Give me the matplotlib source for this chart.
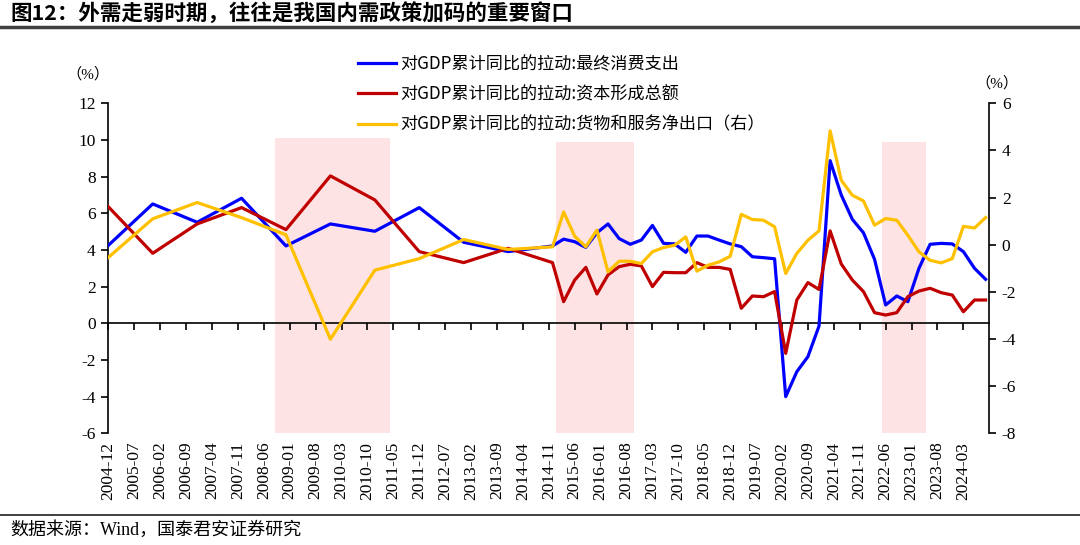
import matplotlib
matplotlib.use('Agg')
import matplotlib.pyplot as plt
import pandas as pd
from matplotlib.lines import Line2D

plt.rcParams['font.family'] = ['Liberation Serif', 'Noto Sans CJK SC']
plt.rcParams['axes.unicode_minus'] = False

# dates: annual (Dec) to 2014, then quarterly
dates = ['%d-12' % y for y in range(2004, 2015)] + \
    [str(p.asfreq('M', 'end')) for p in pd.period_range('2015Q1', '2024Q3', freq='Q')]

consumption = [4.25, 6.51, 5.51, 6.82, 4.22, 5.42, 5.02, 6.31, 4.42, 3.91, 4.22,
               4.59, 4.45, 4.14, 4.94, 5.42, 4.62, 4.31, 4.54, 5.34, 4.36,
               4.33, 3.87, 4.76, 4.76, 4.54, 4.33, 4.18, 3.63, 3.58, 3.52,
               -4.00, -2.64, -1.82, -0.15, 8.87, 7.00, 5.67, 4.94, 3.49, 1.00,
               1.49, 1.18, 3.00, 4.31, 4.36, 4.33, 3.91, 3.00, 2.40]
capital = [6.36, 3.82, 5.42, 6.31, 5.11, 8.04, 6.73, 3.91, 3.31, 4.09, 3.31,
           1.18, 2.36, 3.05, 1.60, 2.64, 3.09, 3.22, 3.13, 2.00, 2.78,
           2.76, 2.76, 3.31, 3.05, 3.05, 2.94, 0.82, 1.49, 1.45, 1.73,
           -1.64, 1.27, 2.22, 1.85, 5.04, 3.24, 2.36, 1.73, 0.58, 0.45,
           0.58, 1.45, 1.76, 1.91, 1.67, 1.54, 0.63, 1.27, 1.27]
net_export = [-0.54, 1.10, 1.79, 1.15, 0.42, -4.01, -1.08, -0.59, 0.22, -0.20, -0.09,
              1.39, 0.36, -0.09, 0.62, -1.15, -0.70, -0.70, -0.80, -0.30, -0.12,
              -0.02, 0.33, -1.12, -0.87, -0.73, -0.49, 1.29, 1.07, 1.04, 0.76,
              -1.22, -0.37, 0.19, 0.59, 4.83, 2.74, 2.10, 1.86, 0.83, 1.11,
              1.04, 0.40, -0.30, -0.66, -0.77, -0.59, 0.78, 0.71, 1.15]

# shaded windows (start, end, top on left axis)
windows = [('2008-09', '2011-04', 10.1), ('2015-01', '2016-10', 9.9), ('2022-05', '2023-05', 9.9)]

labels = ['对GDP累计同比的拉动:最终消费支出', '对GDP累计同比的拉动:资本形成总额',
          '对GDP累计同比的拉动:货物和服务净出口（右）']
colors = ['#0000FF', '#C00000', '#FFC000']


def mpos(s):
    # month index counted from 2004-12
    y, m = s.split('-')[:2]
    return (int(y) - 2004) * 12 + int(m) - 12


x = [mpos(d) for d in dates]
tick_pos = list(range(0, 232, 7))
tick_lab = []
for t in tick_pos:
    yy = 2004 + (t + 11) // 12
    mm = (t + 11) % 12 + 1
    tick_lab.append('%d-%02d' % (yy, mm))

fig = plt.figure(figsize=(10.8, 5.45), dpi=100)
ax = fig.add_axes([108.3 / 1080, (545 - 433.3) / 545, 881 / 1080, 330 / 545])
ax2 = ax.twinx()

for s, e, top in windows:
    ax.fill_between([mpos(s), mpos(e)], -6, top, color='#FDE3E3', lw=0, zorder=0)

l1, = ax.plot(x, consumption, color=colors[0], lw=2.3, zorder=3)
l2, = ax.plot(x, capital, color=colors[1], lw=2.3, zorder=3)
l3, = ax2.plot(x, net_export, color=colors[2], lw=2.3, zorder=3)

ax.set_xlim(0, 238)
ax.set_ylim(-6, 12)
ax.set_yticks(range(-6, 13, 2))
ax2.set_ylim(-8, 6)
ax2.set_yticks(range(-8, 7, 2))

for a in (ax, ax2):
    a.spines['top'].set_visible(False)
ax.spines['right'].set_visible(False)
ax2.spines['left'].set_visible(False)
ax2.spines['bottom'].set_visible(False)
ax.spines['bottom'].set_position(('data', 0))
for sp in (ax.spines['left'], ax.spines['bottom'], ax2.spines['right']):
    sp.set_linewidth(1.2)

ax.set_xticks(tick_pos)
ax.tick_params(axis='x', direction='out', length=5, width=1.2, labelbottom=False)
ax.tick_params(axis='y', direction='out', length=5, width=1.2, labelsize=12.5, pad=4)
ax2.tick_params(axis='y', direction='out', length=5, width=1.2, labelsize=12.5, pad=4)

sec = ax.secondary_xaxis('bottom')
sec.set_xticks(tick_pos, tick_lab, rotation=90)
sec.tick_params(length=0, labelsize=12.5, pad=6)
sec.spines['bottom'].set_visible(False)

for t in ax.get_yticklabels() + ax2.get_yticklabels() + sec.get_xticklabels():
    t.set_fontfamily('Liberation Serif')

fig.text(88 / 1080, 1 - 74 / 545, '（%）', fontsize=11, ha='center', va='center')
fig.text(997 / 1080, 1 - 83 / 545, '（%）', fontsize=11, ha='center', va='center')

fig.legend([l1, l2, l3], labels, loc='upper left', bbox_to_anchor=(358 / 1080, 1 - 55 / 545),
           frameon=False, borderpad=0, borderaxespad=0, handlelength=2.2, handletextpad=0.3,
           labelspacing=0.72, prop={'family': 'Noto Sans CJK SC', 'size': 12.3})

fig.text(10 / 1080, 1 - 14 / 545, '图12：外需走弱时期，往往是我国内需政策加码的重要窗口',
         fontsize=15.5, fontweight='bold', family='Noto Sans CJK SC', ha='left', va='center')
fig.add_artist(Line2D([0, 1], [1 - 27 / 545, 1 - 27 / 545], transform=fig.transFigure,
                      color='#404040', lw=2.5))
fig.add_artist(Line2D([0, 1], [1 - 515 / 545, 1 - 515 / 545], transform=fig.transFigure,
                      color='#202020', lw=1.2))
fig.text(10 / 1080, 1 - 530 / 545, '数据来源：Wind，国泰君安证券研究', fontsize=13,
         ha='left', va='center')

fig.savefig('out.png', dpi=100)
